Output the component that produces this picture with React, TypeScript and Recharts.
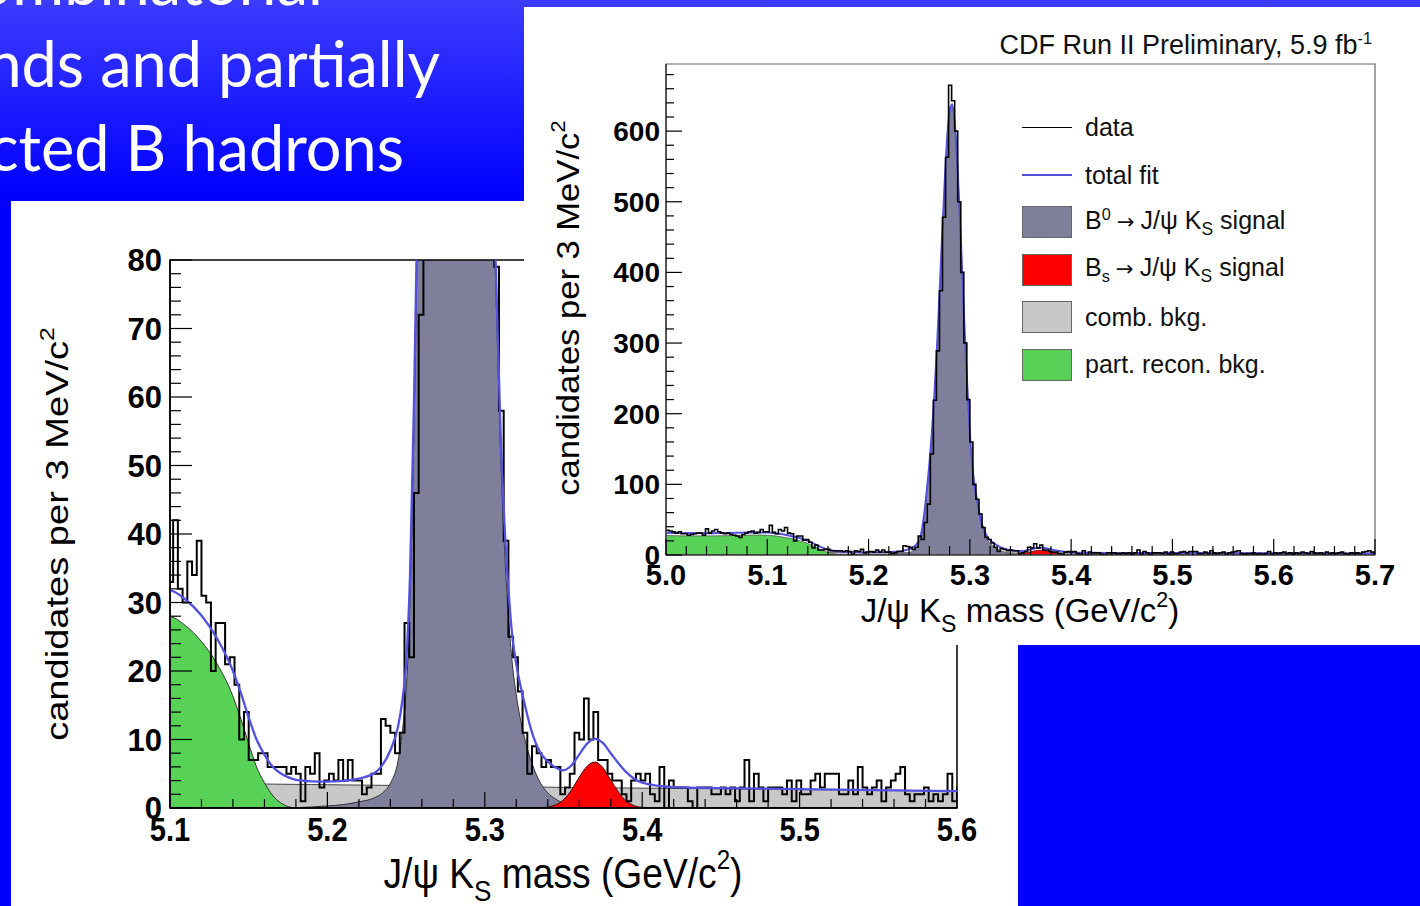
import React from "react";
import { ComposedChart, Area, Line, XAxis, YAxis, ReferenceArea } from "recharts";

const FONT = "'Liberation Sans', Arial, Helvetica, sans-serif";

// histogram: candidates per 3 MeV bin, first bin starts at 5.000 GeV/c2
const binStart = 5.0;
const binWidth = 0.003;
const counts = [
  35, 34, 33, 31, 33, 30, 30, 28, 29, 30, 31, 31, 28, 37, 31, 34, 36, 33, 31, 30,
  31, 29, 28, 27, 25, 29, 31, 33, 34, 31, 32, 36, 33,
  33, 42, 32, 30, 36, 34, 39, 31, 30, 20, 27, 27, 21, 22, 18, 10, 14, 7,
  7, 8, 8, 6, 6, 6, 6, 5, 6, 5, 1, 6, 5, 8, 3, 4, 5, 4, 7, 4, 7, 4, 4, 2, 3, 5, 5,
  13, 12, 11, 8, 11, 27, 22,
  46, 72, 143, 219, 289, 374, 478, 563, 665, 643, 600, 500, 400, 300, 220, 160, 100,
  79, 58, 39, 25,
  22, 17, 11, 5, 9, 8, 6, 7, 6, 6, 2, 3, 5, 11, 10, 16, 10, 14,
  7, 7, 5, 4, 4, 2, 1, 4, 5, 4,
  5, 2, 1, 6, 0, 4, 3, 3, 3, 1,
  0, 3, 3, 3, 2, 2, 3, 2, 3, 1,
  3, 7, 1, 5, 3, 1, 3, 3, 3, 2,
  4, 1, 4, 2, 2, 4, 5, 3, 5, 5,
  5, 2, 2, 4, 2, 6, 3, 2, 3, 4,
  1, 3, 4, 5, 6, 2, 1, 2, 2, 3,
  1, 2, 1, 2, 5, 1,
  3, 2, 3, 4, 2, 3, 1, 3, 2, 4, 3, 2, 5, 3, 2, 3, 1, 4, 2, 3,
  2, 3, 4, 2, 1, 3, 2, 3, 2, 4, 5, 6, 4, 3,
];

// fit curves
const fitMass = [
  5.0, 5.02, 5.04, 5.06, 5.08, 5.09, 5.1, 5.11, 5.12, 5.13, 5.14, 5.145, 5.15, 5.155, 5.16,
  5.165, 5.17, 5.175, 5.18, 5.19, 5.2, 5.21, 5.22, 5.23, 5.235, 5.24, 5.245, 5.2475, 5.25,
  5.2525, 5.255, 5.2575, 5.26, 5.2625, 5.265, 5.2675, 5.27, 5.2725, 5.275, 5.2775, 5.28,
  5.2825, 5.285, 5.2875, 5.29, 5.2925, 5.295, 5.2975, 5.3, 5.3025, 5.305, 5.3075, 5.31,
  5.3125, 5.315, 5.3175, 5.32, 5.325, 5.33, 5.335, 5.34, 5.345, 5.35, 5.355, 5.36, 5.365,
  5.37, 5.375, 5.38, 5.385, 5.39, 5.4, 5.42, 5.45, 5.5, 5.55, 5.6, 5.65, 5.7,
];
const fitTotal = [
  31.6, 31.0, 30.9, 31.3, 31.8, 32.0, 31.8, 30.4, 28.1, 24.7, 20.0, 16.8, 13.2, 10.0, 7.8,
  6.1, 5.1, 4.5, 4.1, 3.9, 3.85, 3.95, 4.3, 5.1, 6.3, 8.4, 12, 15.5, 21,
  34, 59, 92, 128, 173, 228, 293, 368, 448, 523, 588, 628,
  638, 613, 558, 483, 398, 313, 238, 173, 125, 95, 75, 55,
  41.5, 32, 25, 21, 15.5, 11, 8.2, 6.8, 5.9, 5.5, 6.2, 7.8, 9.4,
  10.1, 9.5, 8.0, 6.5, 5.2, 3.7, 3.05, 2.9, 2.75, 2.6, 2.45, 2.35, 2.25,
];
const fitPart = [
  27.5, 27.0, 27.0, 27.4, 28.0, 28.3, 28.0, 26.6, 24.3, 21.0, 16.3, 13.0, 9.4, 6.0, 3.7,
  1.9, 0.8, 0.2, 0, 0, 0, 0, 0, 0, 0, 0, 0, 0, 0,
  0, 0, 0, 0, 0, 0, 0, 0, 0, 0, 0, 0,
  0, 0, 0, 0, 0, 0, 0, 0, 0, 0, 0, 0,
  0, 0, 0, 0, 0, 0, 0, 0, 0, 0, 0, 0, 0,
  0, 0, 0, 0, 0, 0, 0, 0, 0, 0, 0, 0, 0,
];
const fitComb = [
  4.1, 4.0, 3.95, 3.9, 3.8, 3.75, 3.7, 3.67, 3.64, 3.6, 3.57, 3.55, 3.54, 3.52, 3.5,
  3.49, 3.47, 3.46, 3.45, 3.42, 3.4, 3.37, 3.35, 3.32, 3.31, 3.3, 3.29, 3.28, 3.28,
  3.27, 3.26, 3.26, 3.25, 3.24, 3.24, 3.23, 3.22, 3.22, 3.21, 3.2, 3.2,
  3.19, 3.19, 3.18, 3.18, 3.17, 3.17, 3.16, 3.15, 3.15, 3.14, 3.14, 3.13,
  3.12, 3.12, 3.11, 3.1, 3.09, 3.07, 3.06, 3.04, 3.02, 3.0, 2.99, 2.98, 2.97,
  2.96, 2.95, 2.94, 2.93, 2.92, 2.9, 2.86, 2.8, 2.7, 2.6, 2.5, 2.4, 2.3,
];
const fitB0 = [
  0, 0, 0, 0, 0, 0, 0, 0, 0, 0, 0, 0, 0, 0, 0,
  0, 0, 0, 0.05, 0.15, 0.3, 0.5, 0.9, 1.5, 2.2, 3.6, 7, 11, 17,
  30, 55, 88, 125, 170, 225, 290, 365, 445, 520, 585, 625,
  635, 610, 555, 480, 395, 310, 235, 170, 122, 92, 72, 52,
  38, 28, 21, 16.5, 10.5, 6.5, 3.8, 2.2, 1.3, 0.7, 0.4, 0.2, 0.1,
  0.05, 0, 0, 0, 0, 0, 0, 0, 0, 0, 0, 0, 0,
];
const fitBs = [
  0, 0, 0, 0, 0, 0, 0, 0, 0, 0, 0, 0, 0, 0, 0,
  0, 0, 0, 0, 0, 0, 0, 0, 0, 0, 0, 0, 0, 0,
  0, 0, 0, 0, 0, 0, 0, 0, 0, 0, 0, 0,
  0, 0, 0, 0, 0, 0, 0, 0, 0, 0, 0, 0,
  0, 0, 0, 0, 0, 0, 0.04, 0.13, 0.45, 1.2, 2.6, 4.5, 6.1,
  6.7, 5.9, 4.1, 2.3, 1.0, 0.1, 0, 0, 0, 0, 0, 0, 0,
];

const upperXTicks = [5.0, 5.1, 5.2, 5.3, 5.4, 5.5, 5.6, 5.7];
const upperYTicks = [0, 100, 200, 300, 400, 500, 600];
const lowerXTicks = [5.1, 5.2, 5.3, 5.4, 5.5, 5.6];
const lowerYTicks = [0, 10, 20, 30, 40, 50, 60, 70, 80];

const histRows = counts.map((v, i) => ({ m: +(binStart + i * binWidth).toFixed(4), v }));
histRows.push({ m: +(binStart + counts.length * binWidth).toFixed(4), v: counts[counts.length - 1] });

const fitRows = fitMass.map((m, i) => ({
  m,
  total: fitTotal[i],
  part: fitPart[i],
  comb: fitComb[i],
  b0: fitB0[i],
  bs: fitBs[i],
}));

const C = {
  slate: "#7f7f9c",
  green: "#57d257",
  gray: "#c8c8c8",
  red: "#ff0000",
  fit: "#5252e0",
};

function allTicks(lo: number, hi: number, step: number) {
  const out: number[] = [];
  const n = Math.round((hi - lo) / step);
  for (let k = 0; k <= n; k++) out.push(+(lo + k * step).toFixed(4));
  return out;
}

const isIn = (list: number[], v: number) => list.some((t) => Math.abs(t - v) < 1e-6);

const makeXTick = (majors: number[], majorLen: number, minorLen: number, size: number, dy: number, sx = 1) =>
  (props: any) => {
    const { x, y, payload } = props;
    const major = isIn(majors, payload.value);
    return (
      <g>
        <line x1={x} x2={x} y1={y} y2={y - (major ? majorLen : minorLen)} stroke="#000" strokeWidth={1.2} />
        {major && (
          <g transform={`translate(${x},${y + dy}) scale(${sx},1)`}>
            <text x={0} y={0} textAnchor="middle" fontSize={size} fontWeight="bold" fontFamily={FONT} fill="#000">
              {payload.value.toFixed(1)}
            </text>
          </g>
        )}
      </g>
    );
  };

const makeYTick = (majors: number[], majorLen: number, minorLen: number, size: number, gap: number) =>
  (props: any) => {
    const { x, y, payload } = props;
    const major = isIn(majors, payload.value);
    return (
      <g>
        <line x1={x} x2={x + (major ? majorLen : minorLen)} y1={y} y2={y} stroke="#000" strokeWidth={1.2} />
        {major && (
          <text x={x - gap} y={y} dy="0.36em" textAnchor="end" fontSize={size} fontWeight="bold" fontFamily={FONT} fill="#000">
            {payload.value}
          </text>
        )}
      </g>
    );
  };

const MassTitle = ({ x, y, size, sx = 1, sy = 1 }: any) => (
  <g transform={`translate(${x},${y}) scale(${sx},${sy})`}>
    <text x={0} y={0} textAnchor="middle" fontSize={size} fontFamily={FONT} fill="#000">
      J/ψ K
      <tspan dy={size * 0.3} fontSize={size * 0.7}>S</tspan>
      <tspan dy={-size * 0.3}> mass (GeV/c</tspan>
      <tspan dy={-size * 0.45} fontSize={size * 0.65}>2</tspan>
      <tspan dy={size * 0.45}>)</tspan>
    </text>
  </g>
);

const CandTitle = ({ x, y, size, stretch = 1 }: any) => (
  <g transform={`translate(${x},${y}) rotate(-90) scale(${stretch},1)`}>
    <text x={0} y={0} textAnchor="middle" fontSize={size} fontFamily={FONT} fill="#000">
      candidates per 3 MeV/c
      <tspan dy={-size * 0.45} fontSize={size * 0.65}>2</tspan>
    </text>
  </g>
);

function LowerChart() {
  return (
    <ComposedChart
      width={1007}
      height={705}
      data={fitRows}
      margin={{ top: 59, right: 61, bottom: 38, left: 79 }}
    >
      <XAxis
        dataKey="m"
        type="number"
        domain={[5.1, 5.6]}
        allowDataOverflow
        ticks={allTicks(5.1, 5.6, 0.02)}
        interval={0}
        height={60}
        tickSize={0}
        tickMargin={0}
        tickLine={false}
        axisLine={{ stroke: "#000", strokeWidth: 1.5 }}
        tick={makeXTick(lowerXTicks, 16, 9, 33, 33, 0.88)}
        label={{ content: () => <MassTitle x={552} y={687} size={40} sx={0.93} sy={1.05} /> }}
      />
      <YAxis
        type="number"
        domain={[0, 80]}
        allowDataOverflow
        ticks={allTicks(0, 80, 2)}
        interval={0}
        width={80}
        tickSize={0}
        tickMargin={0}
        tickLine={false}
        axisLine={{ stroke: "#000", strokeWidth: 1.5 }}
        tick={makeYTick(lowerYTicks, 22, 11, 31, 8)}
        label={{ content: () => <CandTitle x={57} y={333} size={32} stretch={1.19} /> }}
      />
      <Area dataKey="comb" type="monotone" fill={C.gray} fillOpacity={1} stroke="#444" strokeWidth={1} isAnimationActive={false} />
      <Area dataKey="part" type="monotone" fill={C.green} fillOpacity={1} stroke="#333" strokeWidth={1} isAnimationActive={false} />
      <Area dataKey="b0" type="monotone" fill={C.slate} fillOpacity={1} stroke="#333" strokeWidth={1} isAnimationActive={false} />
      <Area dataKey="bs" type="monotone" fill={C.red} fillOpacity={1} stroke="#400" strokeWidth={1} isAnimationActive={false} />
      <Line data={histRows} dataKey="v" type="stepAfter" stroke="#000" strokeWidth={2} dot={false} isAnimationActive={false} />
      <Line dataKey="total" type="monotone" stroke={C.fit} strokeWidth={2.3} dot={false} isAnimationActive={false} />
      <ReferenceArea x1={5.1} x2={5.6} y1={0} y2={80} fill="none" stroke="#000" strokeWidth={1.5} />
    </ComposedChart>
  );
}

function UpperChart() {
  return (
    <ComposedChart
      width={896}
      height={638}
      data={fitRows}
      margin={{ top: 57, right: 45, bottom: 30, left: 62 }}
    >
      <XAxis
        dataKey="m"
        type="number"
        domain={[5.0, 5.7]}
        allowDataOverflow
        ticks={allTicks(5.0, 5.7, 0.02)}
        interval={0}
        height={60}
        tickSize={0}
        tickMargin={0}
        tickLine={false}
        axisLine={{ stroke: "#222", strokeWidth: 1.2 }}
        tick={makeXTick(upperXTicks, 16, 9, 29, 30)}
        label={{ content: () => <MassTitle x={496} y={615} size={33} /> }}
      />
      <YAxis
        type="number"
        domain={[0, 695]}
        allowDataOverflow
        ticks={allTicks(0, 680, 20)}
        interval={0}
        width={80}
        tickSize={0}
        tickMargin={0}
        tickLine={false}
        axisLine={{ stroke: "#222", strokeWidth: 1.2 }}
        tick={makeYTick(upperYTicks, 16, 8, 28, 6)}
        label={{ content: () => <CandTitle x={55} y={301} size={32} stretch={1.08} /> }}
      />
      <Area dataKey="comb" type="monotone" fill={C.gray} fillOpacity={1} stroke="#555" strokeWidth={0.8} isAnimationActive={false} />
      <Area dataKey="part" type="monotone" fill={C.green} fillOpacity={1} stroke="#555" strokeWidth={0.8} isAnimationActive={false} />
      <Area dataKey="b0" type="monotone" fill={C.slate} fillOpacity={1} stroke="#555" strokeWidth={0.8} isAnimationActive={false} />
      <Area dataKey="bs" type="monotone" fill={C.red} fillOpacity={1} stroke="#600" strokeWidth={0.8} isAnimationActive={false} />
      <Line dataKey="total" type="monotone" stroke={C.fit} strokeWidth={2} dot={false} isAnimationActive={false} />
      <Line data={histRows} dataKey="v" type="stepAfter" stroke="#000" strokeWidth={1.6} dot={false} isAnimationActive={false} />
      <ReferenceArea x1={5.0} x2={5.7} y1={0} y2={695} fill="none" stroke="#666" strokeWidth={1.2} />
    </ComposedChart>
  );
}

const arrow = <span style={{ fontFamily: "'DejaVu Sans', sans-serif", fontSize: "0.85em", margin: "0 6px" }}>→</span>;

const legendItems = [
  { kind: "line", color: "#000", label: <>data</> },
  { kind: "line", color: C.fit, label: <>total fit</> },
  { kind: "box", color: C.slate, label: <>B<sup style={{ fontSize: "0.65em" }}>0</sup>{arrow}J/ψ K<sub style={{ fontSize: "0.7em" }}>S</sub> signal</> },
  { kind: "box", color: C.red, label: <>B<sub style={{ fontSize: "0.65em" }}>s</sub>{arrow}J/ψ K<sub style={{ fontSize: "0.7em" }}>S</sub> signal</> },
  { kind: "box", color: C.gray, label: <>comb. bkg.</> },
  { kind: "box", color: C.green, label: <>part. recon. bkg.</> },
];

function FitLegend() {
  return (
    <div style={{ position: "absolute", left: 498, top: 97, fontFamily: FONT, fontSize: 25, color: "#111" }}>
      {legendItems.map((it, i) => (
        <div key={i} style={{ display: "flex", alignItems: "center", height: 47.4, lineHeight: 1 }}>
          <div style={{ width: 50, height: 32, position: "relative", marginRight: 13 }}>
            {it.kind === "line" ? (
              <div style={{ position: "absolute", top: 15, left: 0, width: 50, height: it.color === "#000" ? 1 : 2, background: it.color }} />
            ) : (
              <div style={{ width: 48, height: 30, background: it.color, border: "1px solid #666" }} />
            )}
          </div>
          <span>{it.label}</span>
        </div>
      ))}
    </div>
  );
}

export default function App() {
  return (
    <div
      style={{
        position: "absolute",
        left: 0,
        top: 0,
        width: 1420,
        height: 906,
        overflow: "hidden",
        background: "linear-gradient(180deg, #3c3cff 0px, #0000ff 195px, #0000ff 906px)",
      }}
    >
      <div style={{ position: "absolute", left: 0, top: 0, width: 524, height: 201, overflow: "hidden", fontFamily: "Lato, 'Open Sans', sans-serif", fontSize: 63, color: "#fff", lineHeight: "63px" }}>
        <div style={{ position: "absolute", right: 524 - 323, top: 5 - 56, whiteSpace: "nowrap" }}>Combinatorial</div>
        <div style={{ position: "absolute", right: 524 - 440, top: 87 - 56, whiteSpace: "nowrap" }}>backgrounds and partially</div>
        <div style={{ position: "absolute", right: 524 - 404, top: 171 - 56, whiteSpace: "nowrap" }}>reconstructed B hadrons</div>
      </div>

      <div style={{ position: "absolute", left: 11, top: 201, width: 1007, height: 705, background: "#fff" }}>
        <LowerChart />
      </div>

      <div style={{ position: "absolute", left: 524, top: 7, width: 896, height: 638, background: "#fff" }}>
        <UpperChart />
        <div style={{ position: "absolute", right: 48, top: 22, fontFamily: FONT, fontSize: 27, color: "#111", whiteSpace: "nowrap" }}>
          CDF Run II Preliminary, 5.9 fb<sup style={{ fontSize: "0.6em" }}>-1</sup>
        </div>
        <FitLegend />
      </div>
    </div>
  );
}
